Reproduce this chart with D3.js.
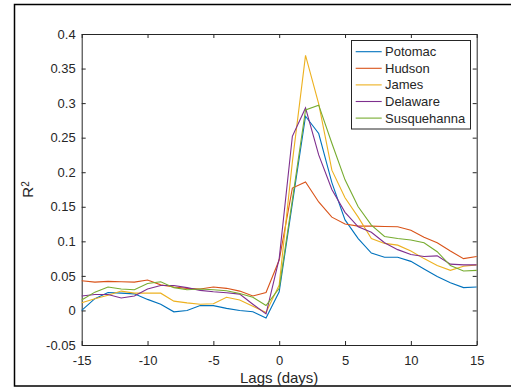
<!DOCTYPE html>
<html>
<head>
<meta charset="utf-8">
<script src="https://cdn.jsdelivr.net/npm/d3@7"></script>
<style>
  body { margin: 0; background: #fff; }
  text { font-family: Arial, 'Liberation Sans', Helvetica, sans-serif; fill: #262626; }
</style>
</head>
<body>
<div id="chart"></div>
<script>

const lags = d3.range(-15, 16);

const potomac = [0, 0.017, 0.026, 0.025, 0.024, 0.016, 0.009, -0.002, 0, 0.007, 0.007, 0.003, 0, -0.002, -0.011,
  0.027, 0.155, 0.281, 0.256, 0.185, 0.131, 0.104, 0.083, 0.077, 0.077, 0.071, 0.060, 0.049, 0.040, 0.033, 0.034];
const hudson = [0.043, 0.041, 0.042, 0.0415, 0.041, 0.044, 0.037, 0.034, 0.032, 0.031, 0.034, 0.032, 0.028, 0.021, 0.026,
  0.073, 0.177, 0.186, 0.157, 0.135, 0.125, 0.122, 0.122, 0.1215, 0.121, 0.116, 0.106, 0.098, 0.086, 0.075, 0.078];
const james = [0.011, 0.017, 0.022, 0.028, 0.025, 0.025, 0.025, 0.0135, 0.011, 0.009, 0.0096, 0.019, 0.015, 0.006, -0.003,
  0.037, 0.215, 0.369, 0.299, 0.203, 0.163, 0.135, 0.104, 0.097, 0.0945, 0.086, 0.075, 0.065, 0.058, 0.064, 0.066];
const delaware = [0.021, 0.023, 0.023, 0.018, 0.021, 0.031, 0.036, 0.036, 0.033, 0.029, 0.027, 0.0255, 0.0236, 0.009, -0.005,
  0.075, 0.252, 0.293, 0.225, 0.175, 0.142, 0.121, 0.113, 0.098, 0.088, 0.081, 0.078, 0.079, 0.067, 0.066, 0.066];
const susquehanna = [0.015, 0.0265, 0.034, 0.031, 0.030, 0.039, 0.0415, 0.033, 0.030, 0.031, 0.030, 0.0285, 0.0246, 0.019, 0.0072,
  0.032, 0.16, 0.29, 0.297, 0.242, 0.189, 0.150, 0.1235, 0.107, 0.104, 0.102, 0.098, 0.085, 0.065, 0.057, 0.058];

const seriesNames = ['Potomac', 'Hudson', 'James', 'Delaware', 'Susquehanna'];
const seriesValues = [potomac, hudson, james, delaware, susquehanna];
const colors = ['#0072BD', '#D95319', '#EDB120', '#7E2F8E', '#77AC30'];

const xTicks = [-15, -10, -5, 0, 5, 10, 15];
const yTicks = [-0.05, 0, 0.05, 0.1, 0.15, 0.2, 0.25, 0.3, 0.35, 0.4];

const width = 511;
const height = 389;
const margin = {top: 34, right: 34, bottom: 44, left: 81.7};

const svg = d3.select('#chart').append('svg')
  .attr('width', width)
  .attr('height', height);

// figure frame
svg.append('rect')
  .attr('x', 14.5).attr('y', 4.5)
  .attr('width', 530).attr('height', 381.5)
  .attr('fill', 'none')
  .attr('stroke', '#000')
  .attr('stroke-width', 1.5);

const x = d3.scaleLinear().domain([-15, 15]).range([margin.left, width - margin.right - 0.3]);
const y = d3.scaleLinear().domain([-0.05, 0.4]).range([height - margin.bottom, margin.top]);

const fmt = (d) => String(+d.toFixed(2));

// axes, ticks inward on all four sides
const axisBottom = svg.append('g')
  .attr('transform', `translate(0,${y(-0.05)})`)
  .call(d3.axisBottom(x).tickValues(xTicks).tickFormat(fmt).tickSizeInner(-4).tickSizeOuter(0).tickPadding(10));
const axisTop = svg.append('g')
  .attr('transform', `translate(0,${y(0.4)})`)
  .call(d3.axisTop(x).tickValues(xTicks).tickFormat('').tickSizeInner(-4).tickSizeOuter(0));
const axisLeft = svg.append('g')
  .attr('transform', `translate(${x(-15)},0)`)
  .call(d3.axisLeft(y).tickValues(yTicks).tickFormat(fmt).tickSizeInner(-4).tickSizeOuter(0).tickPadding(6));
const axisRight = svg.append('g')
  .attr('transform', `translate(${x(15)},0)`)
  .call(d3.axisRight(y).tickValues(yTicks).tickFormat('').tickSizeInner(-4).tickSizeOuter(0));

[axisBottom, axisTop, axisLeft, axisRight].forEach((g) => {
  g.selectAll('.domain, .tick line').attr('stroke', '#262626');
  g.selectAll('text').style('font-size', '13px').attr('fill', '#262626');
});
axisBottom.selectAll('text').attr('dy', '0.75em');

// lines
const line = d3.line()
  .x((d, i) => x(lags[i]))
  .y((d) => y(d));

svg.append('g').selectAll('path')
  .data(seriesValues)
  .join('path')
  .attr('d', line)
  .attr('fill', 'none')
  .attr('stroke', (d, i) => colors[i])
  .attr('stroke-width', 1.1);

// axis labels
svg.append('text')
  .attr('x', x(0))
  .attr('y', 383)
  .attr('text-anchor', 'middle')
  .style('font-size', '15px')
  .text('Lags (days)');

const yLabel = svg.append('text')
  .attr('transform', `translate(33,${y(0.175)}) rotate(-90)`)
  .attr('text-anchor', 'middle')
  .style('font-size', '15px');
yLabel.append('tspan').text('R');
yLabel.append('tspan').attr('dy', '-0.45em').style('font-size', '10px').text('2');

// legend
const legend = svg.append('g').attr('transform', 'translate(351,40)');
legend.append('rect')
  .attr('x', 0.5).attr('y', 0.5)
  .attr('width', 119).attr('height', 88.5)
  .attr('fill', '#fff')
  .attr('stroke', '#262626')
  .attr('stroke-width', 1);

const rows = legend.selectAll('g.row')
  .data(seriesNames)
  .join('g')
  .attr('class', 'row')
  .attr('transform', (d, i) => `translate(0,${11.7 + i * 16.6})`);

rows.append('line')
  .attr('x1', 4.7).attr('x2', 30.7)
  .attr('stroke', (d, i) => colors[i])
  .attr('stroke-width', 1.1);

rows.append('text')
  .attr('x', 34)
  .attr('dy', '0.35em')
  .style('font-size', '13px')
  .text((d) => d);

</script>
</body>
</html>
